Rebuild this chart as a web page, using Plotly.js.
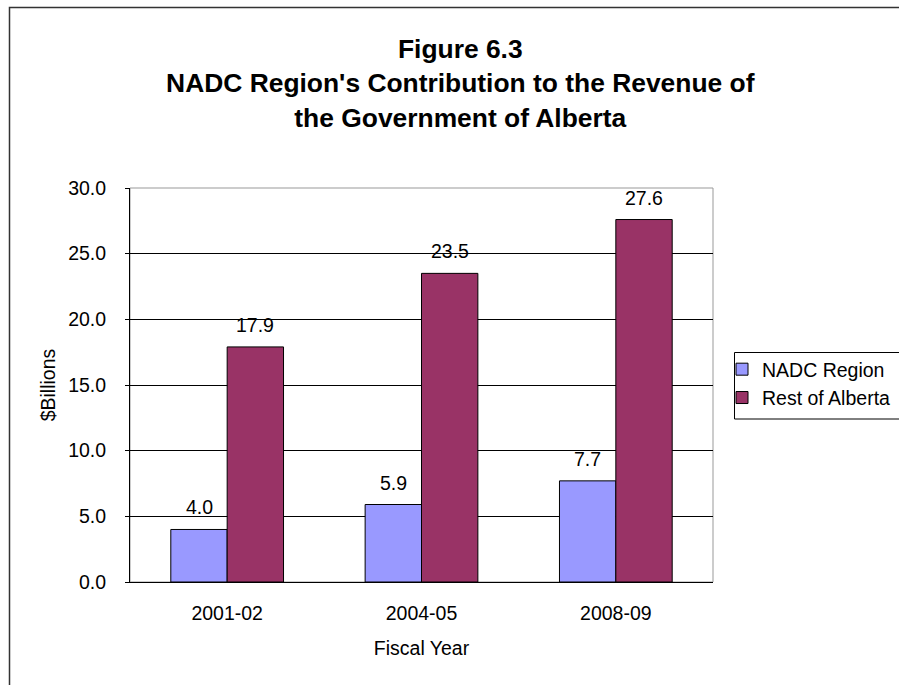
<!DOCTYPE html>
<html>
<head>
<meta charset="utf-8">
<script src="https://cdn.plot.ly/plotly-3.0.1.min.js"></script>
<style>html,body{margin:0;padding:0;background:#fff;}#chart{width:899px;height:685px;}</style>
</head>
<body>
<div id="chart"></div>
<script>
const categories = ["2001-02", "2004-05", "2008-09"];
const seriesNames = ["NADC Region", "Rest of Alberta"];
const nadcValues = [4.0, 5.9, 7.7];
const restValues = [17.9, 23.5, 27.6];
const yTickValues = [0, 5, 10, 15, 20, 25, 30];

const FONT = "Arial, 'Liberation Sans', sans-serif";
const colors = ["#9999FF", "#993366"];
const allSeries = [nadcValues, restValues];

const traces = allSeries.map((vals, i) => ({
  type: "bar",
  name: seriesNames[i],
  x: categories,
  y: vals,
  marker: { color: colors[i], line: { color: "#000", width: 1 } },
  hoverinfo: "x+y"
}));

const annotations = [];
allSeries.forEach((vals, i) => {
  vals.forEach((v, j) => {
    annotations.push({
      x: categories[j], y: v, xref: "x", yref: "y",
      text: v.toFixed(1), showarrow: false,
      xshift: i === 0 ? -28 : 28, yshift: 22, yanchor: "middle",
      font: { family: FONT, size: 19.5, color: "#000" }
    });
  });
});

const layout = {
  width: 899, height: 685,
  margin: { l: 130, r: 186, t: 188, b: 103, autoexpand: false },
  paper_bgcolor: "#fff", plot_bgcolor: "#fff",
  font: { family: FONT, size: 19.5, color: "#000" },
  title: {
    text: "Figure 6.3<br>NADC Region's Contribution to the Revenue of<br>the Government of Alberta",
    font: { family: FONT, size: 26.4, weight: "bold", color: "#000" },
    xref: "container", yref: "container", x: 0.512, xanchor: "center",
    y: 1 - 58 / 685, yanchor: "middle"
  },
  barmode: "group", bargap: 0.42, bargroupgap: 0,
  xaxis: {
    type: "category", tickvals: categories, ticktext: categories,
    showline: true, linecolor: "#000", linewidth: 1,
    ticks: "", ticklabelstandoff: 14,
    tickfont: { family: FONT, size: 19.5, color: "#000" },
    title: { text: "Fiscal Year", font: { family: FONT, size: 19.5, color: "#000" }, standoff: 17 },
    automargin: true, fixedrange: true
  },
  yaxis: {
    range: [0, 30], tickvals: yTickValues, tickformat: ".1f",
    showgrid: true, gridcolor: "#000", gridwidth: 1,
    showline: true, linecolor: "#000", linewidth: 1,
    ticks: "outside", ticklen: 4, tickcolor: "#000", ticklabelstandoff: 15,
    tickfont: { family: FONT, size: 19.5, color: "#000" },
    title: { text: "$Billions", font: { family: FONT, size: 19.5, color: "#000" }, standoff: 7 },
    zeroline: false, automargin: true, fixedrange: true
  },
  legend: {
    x: (722 - 130) / 583, xanchor: "left", y: (582 - 350) / 394, yanchor: "top",
    bgcolor: "rgba(0,0,0,0)", borderwidth: 0,
    font: { family: FONT, size: 19.5, color: "#000" },
    traceorder: "normal"
  },
  annotations: annotations,
  shapes: [
    { type: "rect", xref: "paper", yref: "paper", x0: 0, x1: 1, y0: 0, y1: 1,
      line: { color: "#999", width: 1 }, layer: "below" },
    { type: "rect", xref: "paper", yref: "paper",
      x0: (9.5 - 130) / 583, x1: (910 - 130) / 583,
      y0: (582 - 695) / 394, y1: (582 - 7.5) / 394,
      line: { color: "#333", width: 1.5 }, layer: "below" },
    { type: "rect", xref: "paper", yref: "paper",
      x0: (734.5 - 130) / 583, x1: (905 - 130) / 583,
      y0: (582 - 419) / 394, y1: (582 - 352.5) / 394,
      line: { color: "#000", width: 1 }, fillcolor: "rgba(0,0,0,0)", layer: "below" }
  ],
  showlegend: true
};

Plotly.newPlot("chart", traces, layout, { displayModeBar: false, staticPlot: true });
</script>
</body>
</html>
